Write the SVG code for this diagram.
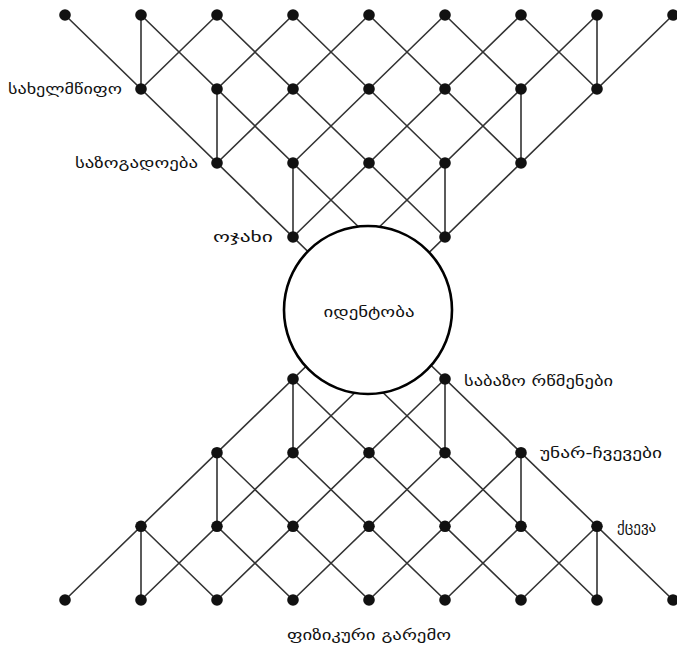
<svg xmlns="http://www.w3.org/2000/svg" width="677" height="651" viewBox="0 0 677 651">
<style>
.e{stroke:#333;stroke-width:1.6;fill:none}
.n{fill:#111}
.t{font-family:"DejaVu Sans",sans-serif;font-size:15px;fill:#111;dominant-baseline:central}
.hub{fill:#fff;stroke:#000;stroke-width:2.6}
</style>
<rect width="677" height="651" fill="#fff"/>
<g id="connectors">
<path class="e" d="M65,15L369,311M141,15L369,237M217,15L445,237M293,15L445,163M369,15L521,163M445,15L521,89M521,15L597,89
M673,15L369,311M597,15L369,237M521,15L293,237M445,15L293,163M369,15L217,163M293,15L217,89M217,15L141,89
M141,15V89M597,15V89M217,89V163M521,89V163M293,163V237M445,163V237"/>
<path class="e" d="M65,600L369,305.3M141,600L369,379M217,600L445,379M293,600L445,452.7M369,600L521,452.7M445,600L521,526.3M521,600L597,526.3
M673,600L369,305.3M597,600L369,379M521,600L293,379M445,600L293,452.7M369,600L217,452.7M293,600L217,526.3M217,600L141,526.3
M141,526.3V600M597,526.3V600M217,452.7V526.3M521,452.7V526.3M293,379V452.7M445,379V452.7"/>
</g>
<g id="nodes-top">
<circle class="n" cx="65" cy="15" r="5.8"/><circle class="n" cx="141" cy="15" r="5.8"/><circle class="n" cx="217" cy="15" r="5.8"/><circle class="n" cx="293" cy="15" r="5.8"/><circle class="n" cx="369" cy="15" r="5.8"/><circle class="n" cx="445" cy="15" r="5.8"/><circle class="n" cx="521" cy="15" r="5.8"/><circle class="n" cx="597" cy="15" r="5.8"/><circle class="n" cx="673" cy="15" r="5.8"/>
<circle class="n" cx="141" cy="89" r="5.8"/><circle class="n" cx="217" cy="89" r="5.8"/><circle class="n" cx="293" cy="89" r="5.8"/><circle class="n" cx="369" cy="89" r="5.8"/><circle class="n" cx="445" cy="89" r="5.8"/><circle class="n" cx="521" cy="89" r="5.8"/><circle class="n" cx="597" cy="89" r="5.8"/>
<circle class="n" cx="217" cy="163" r="5.8"/><circle class="n" cx="293" cy="163" r="5.8"/><circle class="n" cx="369" cy="163" r="5.8"/><circle class="n" cx="445" cy="163" r="5.8"/><circle class="n" cx="521" cy="163" r="5.8"/>
<circle class="n" cx="293" cy="237" r="5.8"/><circle class="n" cx="445" cy="237" r="5.8"/>
</g>
<g id="nodes-bottom">
<circle class="n" cx="293" cy="379" r="5.8"/><circle class="n" cx="445" cy="379" r="5.8"/>
<circle class="n" cx="217" cy="452.7" r="5.8"/><circle class="n" cx="293" cy="452.7" r="5.8"/><circle class="n" cx="369" cy="452.7" r="5.8"/><circle class="n" cx="445" cy="452.7" r="5.8"/><circle class="n" cx="521" cy="452.7" r="5.8"/>
<circle class="n" cx="141" cy="526.3" r="5.8"/><circle class="n" cx="217" cy="526.3" r="5.8"/><circle class="n" cx="293" cy="526.3" r="5.8"/><circle class="n" cx="369" cy="526.3" r="5.8"/><circle class="n" cx="445" cy="526.3" r="5.8"/><circle class="n" cx="521" cy="526.3" r="5.8"/><circle class="n" cx="597" cy="526.3" r="5.8"/>
<circle class="n" cx="65" cy="600" r="5.8"/><circle class="n" cx="141" cy="600" r="5.8"/><circle class="n" cx="217" cy="600" r="5.8"/><circle class="n" cx="293" cy="600" r="5.8"/><circle class="n" cx="369" cy="600" r="5.8"/><circle class="n" cx="445" cy="600" r="5.8"/><circle class="n" cx="521" cy="600" r="5.8"/><circle class="n" cx="597" cy="600" r="5.8"/><circle class="n" cx="673" cy="600" r="5.8"/>
</g>
<g id="identity">
<circle class="hub" cx="368" cy="310" r="84"/>
<text class="t" x="369" y="312" text-anchor="middle" textLength="91" lengthAdjust="spacingAndGlyphs">იდენტობა</text>
</g>
<g id="labels">
<text class="t" x="122" y="89" text-anchor="end" textLength="114" lengthAdjust="spacingAndGlyphs">სახელმწიფო</text>
<text class="t" x="198" y="163" text-anchor="end" textLength="123" lengthAdjust="spacingAndGlyphs">საზოგადოება</text>
<text class="t" x="273" y="237" text-anchor="end" textLength="60" lengthAdjust="spacingAndGlyphs">ოჯახი</text>
<text class="t" x="464" y="381" textLength="149" lengthAdjust="spacingAndGlyphs">საბაზო რწმენები</text>
<text class="t" x="540" y="453" textLength="122" lengthAdjust="spacingAndGlyphs">უნარ-ჩვევები</text>
<text class="t" x="617" y="527">ქცევა</text>
<text class="t" x="369" y="635" text-anchor="middle" textLength="164" lengthAdjust="spacingAndGlyphs">ფიზიკური გარემო</text>
</g>
</svg>
